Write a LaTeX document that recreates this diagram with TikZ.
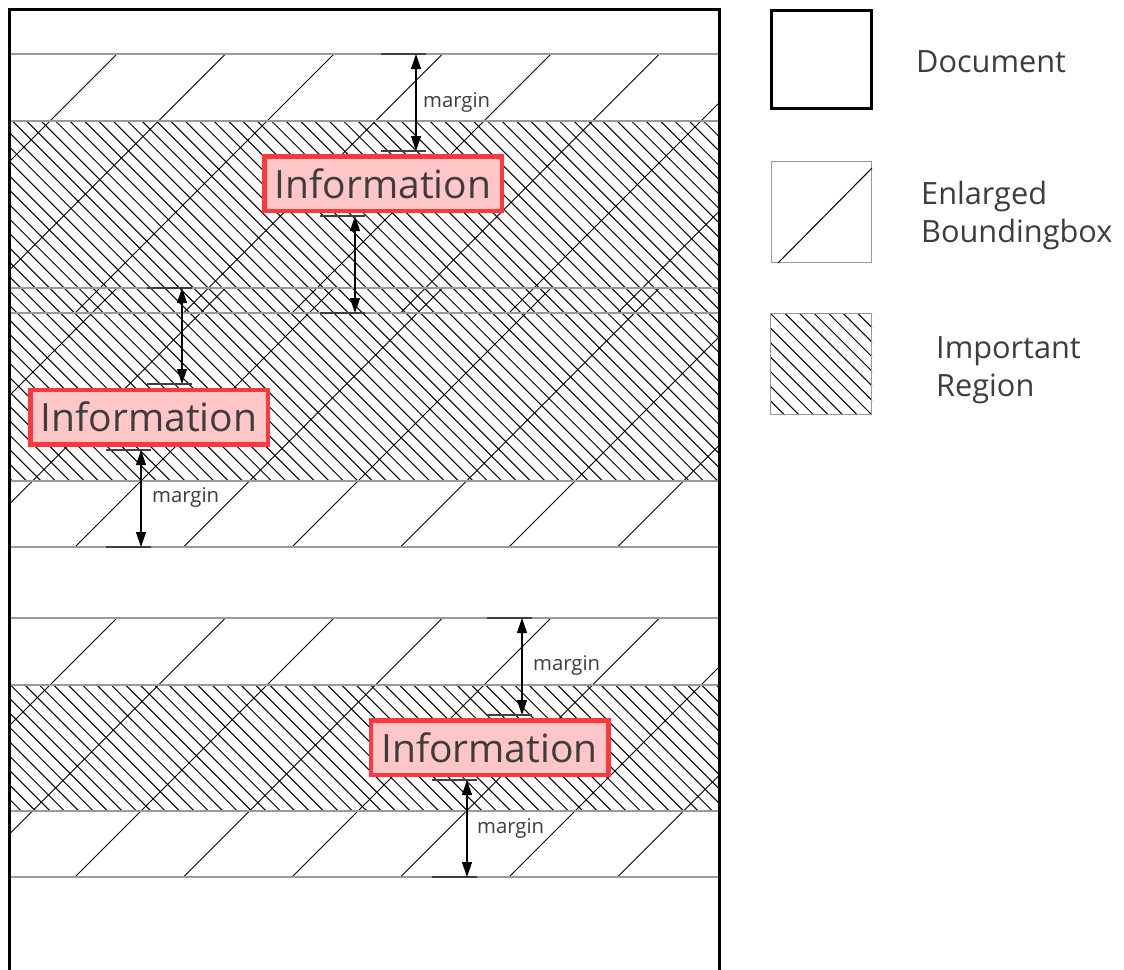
\documentclass[tikz,border=0pt]{standalone}
\usepackage{fontspec}
\setmainfont{Open Sans}
\usetikzlibrary{arrows.meta}
\definecolor{infofill}{HTML}{FFC6C8}
\definecolor{infoline}{HTML}{FF383D}
\definecolor{txt}{HTML}{3D3D3D}
\definecolor{bandline}{HTML}{9A9A9A}

% sparse "/" hatching of an enlarged bounding box (top, bottom)
\newcommand{\bandhatch}[2]{%
  \begin{scope}
    \clip (9,#1) rectangle (719,#2);
    \pgfmathsetmacro\bandh{#2-#1}
    \foreach \k in {0,...,12} {
      \draw[hatchline] ({8.5+108.5*\k},#1) -- ++({-\bandh},\bandh);
    }
  \end{scope}
}
% dense "\" hatching: left, top, right, bottom, phase, step
\newcommand{\densehatch}[6]{%
  \begin{scope}
    \clip (#1,#2) rectangle (#3,#4);
    \pgfmathsetmacro\denseh{#4-#2}
    \foreach \k in {-60,...,60} {
      \draw[hatchline] ({#5+#6*\k},#2) -- ++(\denseh,\denseh);
    }
  \end{scope}
}

\begin{document}
\begin{tikzpicture}[x=1pt,y=-1pt,
  docline/.style={line width=3pt,black},
  bandedge/.style={line width=1.2pt,bandline},
  hatchline/.style={line width=1pt,black},
  info/.style={draw=infoline,fill=infofill,line width=4.5pt,
    minimum width=237.5pt,minimum height=54.5pt,inner sep=0pt,
    text=txt,font=\fontsize{39}{47}\selectfont},
  dimline/.style={line width=1.2pt,black,
    {Triangle[length=15pt,width=10pt]}-{Triangle[length=15pt,width=10pt]}},
  dimtick/.style={line width=1.5pt,black!75},
  dimlabel/.style={anchor=west,inner sep=0pt,text=txt,
    font=\fontsize{20.3}{24}\selectfont},
  legendtext/.style={anchor=base west,inner sep=0pt,text=txt,
    font=\fontsize{30.7}{38}\selectfont},
  legendbox/.style={draw=bandline,line width=1.2pt,inner sep=0pt},
]
\useasboundingbox (0,0) rectangle (1124,969);
\fill[white] (0,0) rectangle (1124,969);

% enlarged bounding boxes
\bandhatch{54}{313}
\bandhatch{288}{547}
\bandhatch{618}{877}

% important regions
\densehatch{9}{121}{719}{481}{12.3}{14.4}
\densehatch{9}{685}{719}{811}{10.5}{14.4}

% band edges
\draw[bandedge] (9,54) rectangle (719,313);
\draw[bandedge] (9,288) rectangle (719,547);
\draw[bandedge] (9,618) rectangle (719,877);
\draw[bandedge] (9,121) -- (719,121) (9,481) -- (719,481);
\draw[bandedge] (9,685) -- (719,685) (9,811) -- (719,811);

% document page
\draw[docline] (9,975) -- (9,9) -- (719,9) -- (719,975);

% information boxes
\node[info] (info1) at (383,183.5) {Information};
\node[info] (info2) at (149,417) {Information};
\node[info] (info3) at (489.5,747.5) {Information};

% margin dimensions
\coordinate (m1a) at (416,54);  \coordinate (m1b) at (416,151);
\coordinate (m2a) at (355,216); \coordinate (m2b) at (355,313);
\coordinate (m3a) at (182,288); \coordinate (m3b) at (182,384);
\coordinate (m4a) at (141,450); \coordinate (m4b) at (141,547);
\coordinate (m5a) at (522,618); \coordinate (m5b) at (522,715);
\coordinate (m6a) at (467,780); \coordinate (m6b) at (467,877);
\foreach \m in {m1a,m1b,m2a,m2b,m3a,m3b,m4a,m4b,m5a,m5b,m6a,m6b} {
  \draw[dimtick] ([xshift=-35pt]\m) -- ([xshift=10pt]\m);
}
\foreach \m in {m1,m2,m3,m4,m5,m6} {
  \draw[dimline] (\m a) -- (\m b);
}
\node[dimlabel] (lab1) at (423,102) {margin};
\node[dimlabel] (lab4) at (152,497) {margin};
\node[dimlabel] (lab5) at (533,665) {margin};
\node[dimlabel] (lab6) at (477,828) {margin};

% legend
\node[draw=black,line width=3pt,inner sep=0pt,minimum width=100pt,
  minimum height=98pt] (legdoc) at (821.5,59.5) {};
\node[legendbox,minimum width=100pt,minimum height=101pt] (legbox) at (821.5,212) {};
\draw[hatchline] ([xshift=7pt]legbox.south west) -- ([yshift=-7pt]legbox.north east);
\densehatch{770}{313}{872}{415}{770}{14.57}
\node[legendbox,minimum width=101pt,minimum height=101pt] (legimp) at (821,364) {};

\node[legendtext] (ldoc) at (916,72) {Document};
\node[legendtext] (lenl) at (921,204) {Enlarged};
\node[legendtext] (lbb) at (921,242) {Boundingbox};
\node[legendtext] (limp) at (936,358) {Important};
\node[legendtext] (lreg) at (936,396) {Region};
\end{tikzpicture}
\end{document}
